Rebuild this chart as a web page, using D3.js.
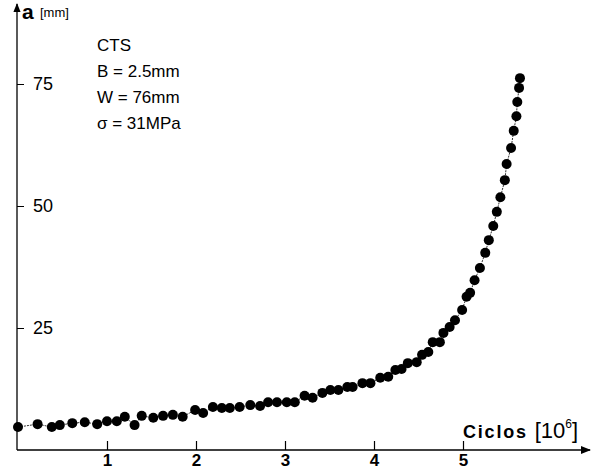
<!DOCTYPE html>
<html>
<head>
<meta charset="utf-8">
<script src="https://cdn.jsdelivr.net/npm/d3@7"></script>
<style>
  body { margin: 0; background: #fff; }
  text { font-family: "Liberation Sans", Arial, sans-serif; fill: #000; }
</style>
</head>
<body>
<script>
// crack length a [mm] vs cycles [10^6]
var ciclos = [0.0, 0.22, 0.38, 0.47, 0.61, 0.75, 0.89, 1.00, 1.11, 1.20, 1.31, 1.39, 1.52, 1.63, 1.74, 1.85,
  1.99, 2.08, 2.19, 2.29, 2.38, 2.49, 2.61, 2.72, 2.81, 2.91, 3.02, 3.11, 3.22, 3.31, 3.42, 3.51, 3.60,
  3.70, 3.76, 3.87, 3.96, 4.07, 4.16, 4.24, 4.31, 4.38, 4.48, 4.54, 4.61, 4.66, 4.74, 4.78, 4.85, 4.91,
  4.99, 5.04, 5.08, 5.13, 5.19, 5.25, 5.29, 5.34, 5.38, 5.42, 5.47, 5.49, 5.54, 5.57, 5.60, 5.61, 5.63, 5.64];
var aMm = [4.7, 5.3, 4.7, 5.1, 5.5, 5.7, 5.3, 5.9, 5.9, 6.8, 5.1, 7.0, 6.6, 7.0, 7.2, 6.8,
  8.2, 7.6, 8.8, 8.6, 8.6, 8.8, 9.2, 9.0, 9.8, 9.8, 9.8, 9.8, 11.1, 10.7, 11.7, 12.3, 12.3,
  12.9, 12.9, 13.7, 13.7, 14.8, 15.0, 16.4, 16.6, 17.8, 18.0, 19.5, 20.1, 22.1, 22.1, 24.0, 25.2, 26.6,
  28.7, 31.4, 32.2, 34.8, 37.3, 40.4, 43.0, 45.9, 48.8, 51.8, 55.3, 58.6, 61.9, 65.4, 68.4, 71.3, 74.2, 76.2];
var xTicks = [1, 2, 3, 4, 5];
var yTicks = [25, 50, 75];
var notes = ["CTS", "B = 2.5mm", "W = 76mm", "σ = 31MPa"];

var width = 592, height = 472;

var svg = d3.select("body").append("svg")
    .attr("width", width)
    .attr("height", height);

var x = d3.scaleLinear().domain([0, 5]).range([18, 463]);
var y = d3.scaleLinear().domain([0, 75]).range([450, 84]);

var points = ciclos.map(function(c, i) { return [c, aMm[i]]; });

//arrow head
svg.append("defs").append("marker")
    .attr("id", "arrow")
    .attr("viewBox", "0 0 10 10")
    .attr("refX", 9).attr("refY", 5)
    .attr("markerWidth", 7).attr("markerHeight", 7)
    .attr("orient", "auto")
    .append("path")
    .attr("d", "M0,1L10,5L0,9Z")
    .attr("fill", "#000");

//axis lines
svg.append("line")
    .attr("x1", 17).attr("y1", 450).attr("x2", 590).attr("y2", 450)
    .attr("stroke", "#000").attr("stroke-width", 1.5)
    .attr("marker-end", "url(#arrow)");
svg.append("line")
    .attr("x1", 17).attr("y1", 450).attr("x2", 17).attr("y2", 4)
    .attr("stroke", "#000").attr("stroke-width", 1.3)
    .attr("marker-end", "url(#arrow)");

var xAxis = svg.append("g")
    .attr("transform", "translate(0,450)")
    .call(d3.axisBottom(x).tickValues(xTicks).tickFormat(d3.format("d")).tickSize(-9).tickPadding(4));
xAxis.select(".domain").remove();
xAxis.selectAll("text")
    .attr("font-size", 17).attr("font-weight", "bold")
    .attr("font-family", "Liberation Sans, Arial, sans-serif");
xAxis.selectAll("line").attr("stroke-width", 1.2);

var yAxis = svg.append("g")
    .attr("transform", "translate(17,0)")
    .call(d3.axisRight(y).tickValues(yTicks).tickSize(7).tickPadding(9));
yAxis.select(".domain").remove();
yAxis.selectAll("text")
    .attr("font-size", 18)
    .attr("font-family", "Liberation Sans, Arial, sans-serif");

//thin curve through the points
svg.append("path")
    .datum(points)
    .attr("fill", "none")
    .attr("stroke", "#333")
    .attr("stroke-width", 1)
    .attr("stroke-dasharray", "2,1")
    .attr("d", d3.line()
        .x(function(d) { return x(d[0]); })
        .y(function(d) { return y(d[1]); }));

svg.selectAll(".dot")
    .data(points)
    .enter()
    .append("circle")
    .attr("class", "dot")
    .attr("cx", function(d) { return x(d[0]); })
    .attr("cy", function(d) { return y(d[1]); })
    .attr("r", 5)
    .attr("fill", "#000");

//axis titles
svg.append("text")
    .attr("x", 22).attr("y", 19)
    .attr("font-size", 21).attr("font-weight", "bold")
    .text("a");
svg.append("text")
    .attr("x", 40).attr("y", 17)
    .attr("font-size", 13)
    .text("[mm]");

var xt = svg.append("text")
    .attr("x", 463).attr("y", 438)
    .attr("font-size", 18).attr("font-weight", "bold")
    .attr("letter-spacing", 1.8);
xt.append("tspan").text("Ciclos ");
xt.append("tspan").attr("font-weight", "normal").attr("font-size", 22).attr("letter-spacing", 0).text("[10");
xt.append("tspan").attr("font-weight", "normal").attr("font-size", 12).attr("letter-spacing", 0).attr("dy", -10).text("6");
xt.append("tspan").attr("font-weight", "normal").attr("font-size", 22).attr("letter-spacing", 0).attr("dy", 10).text("]");

svg.selectAll(".note")
    .data(notes)
    .enter()
    .append("text")
    .attr("class", "note")
    .attr("x", 97)
    .attr("y", function(d, i) { return 51 + i * 26; })
    .attr("font-size", 17)
    .text(function(d) { return d; });
</script>
</body>
</html>
